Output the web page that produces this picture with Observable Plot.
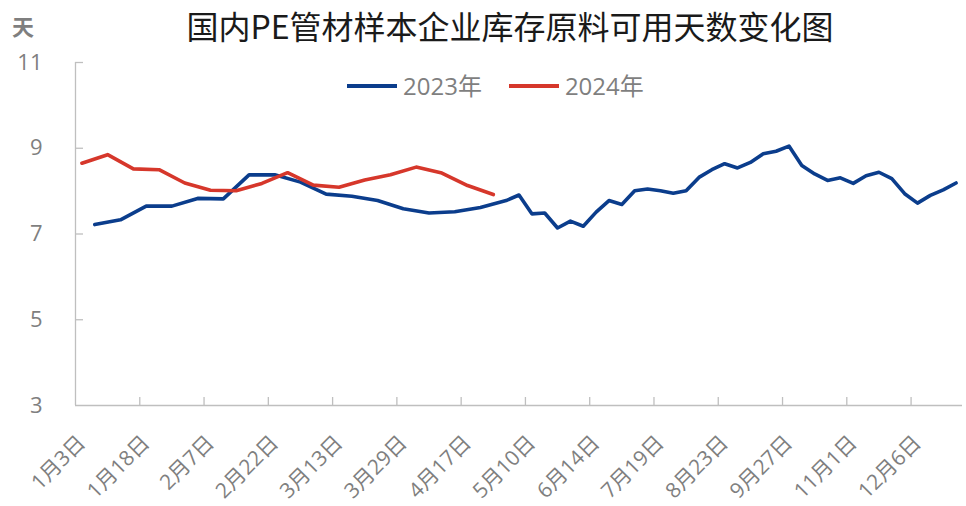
<!DOCTYPE html>
<html><head><meta charset="utf-8">
<script src="https://cdn.jsdelivr.net/npm/d3@7"></script>
<script src="https://cdn.jsdelivr.net/npm/@observablehq/plot@0.6"></script>
<style>
body{margin:0;background:#fff;}
#wrap{position:relative;width:966px;height:506px;overflow:hidden;font-family:"Open Sans","Noto Sans CJK SC",sans-serif;}
#title{position:absolute;left:0;width:1020px;top:3px;text-align:center;font-family:"Noto Sans CJK SC",sans-serif;font-size:32px;line-height:44px;color:#1a1a1a;}
#unit{position:absolute;left:12px;top:10px;font-size:22px;line-height:30px;font-weight:bold;color:#7f7f7f;font-family:"Noto Sans CJK SC",sans-serif;}
#legend{position:absolute;top:69px;left:347px;display:flex;align-items:center;font-size:24px;line-height:34px;color:#7f7f7f;}
#legend .sw{display:inline-block;width:50px;height:4px;}
#chart{position:absolute;left:0;top:30px;}
</style></head>
<body>
<div id="wrap">
  <div id="chart"></div>
  <div id="title">国内PE管材样本企业库存原料可用天数变化图</div>
  <div id="unit">天</div>
  <div id="legend"></div>
</div>
<script>
const categories = ["1月3日","1月4日","1月10日","1月11日","1月17日","1月18日","1月24日","1月25日","1月31日","2月1日",
"2月7日","2月8日","2月14日","2月15日","2月21日","2月22日","2月28日","3月1日","3月6日","3月8日",
"3月13日","3月15日","3月20日","3月22日","3月27日","3月29日","4月3日","4月5日","4月10日","4月12日",
"4月17日","4月19日","4月24日","4月26日","5月3日","5月10日","5月17日","5月24日","5月31日","6月7日",
"6月14日","6月21日","6月28日","7月5日","7月12日","7月19日","7月26日","8月2日","8月9日","8月16日",
"8月23日","8月30日","9月6日","9月13日","9月20日","9月27日","10月4日","10月11日","10月18日","10月25日",
"11月1日","11月8日","11月15日","11月22日","11月29日","12月6日","12月13日","12月20日","12月27日"];

const tickLabels = ["1月3日","1月18日","2月7日","2月22日","3月13日","3月29日","4月17日","5月10日","6月14日","7月19日","8月23日","9月27日","11月1日","12月6日"];
const yTicks = [3,5,7,9,11];

const seriesNames = ["2023年","2024年"];
const seriesColors = ["#0b3d8c","#d6372b"];

const dates2023 = ["1月4日","1月11日","1月18日","1月25日","2月1日","2月8日","2月15日","2月22日","3月1日","3月8日",
"3月15日","3月22日","3月29日","4月5日","4月12日","4月19日","4月26日","5月3日","5月10日","5月17日",
"5月24日","5月31日","6月7日","6月14日","6月21日","6月28日","7月5日","7月12日","7月19日","7月26日",
"8月2日","8月9日","8月16日","8月23日","8月30日","9月6日","9月13日","9月20日","9月27日","10月4日",
"10月11日","10月18日","10月25日","11月1日","11月8日","11月15日","11月22日","11月29日","12月6日","12月13日",
"12月20日","12月27日"];
const values2023 = [7.22,7.33,7.65,7.65,7.83,7.82,8.38,8.38,8.21,7.93,
7.88,7.78,7.59,7.49,7.52,7.62,7.78,7.91,7.47,7.49,
7.14,7.30,7.18,7.51,7.78,7.69,8.01,8.05,8.01,7.95,
8.01,8.32,8.50,8.64,8.54,8.67,8.87,8.93,9.05,8.60,
8.40,8.25,8.31,8.18,8.36,8.44,8.29,7.94,7.72,7.90,
8.03,8.19];

const dates2024 = ["1月3日","1月10日","1月17日","1月24日","1月31日","2月7日","2月14日","2月21日","2月28日","3月6日",
"3月13日","3月20日","3月27日","4月3日","4月10日","4月17日","4月24日"];
const values2024 = [8.65,8.85,8.52,8.50,8.19,8.02,8.01,8.18,8.43,8.14,
8.09,8.26,8.38,8.56,8.42,8.13,7.92];

const gray = "#7f7f7f", axisGray = "#bfbfbf";
const toRows = (dates, values) => dates.map((d, k) => ({i: categories.indexOf(d), v: values[k]}));
const rows2023 = toRows(dates2023, values2023);
const rows2024 = toRows(dates2024, values2024);
const labelIdx = tickLabels.map(t => categories.indexOf(t));
const boundaries = labelIdx.slice(1).map(i => i - 0.5);

const chart = Plot.plot({
  width: 966, height: 476,
  marginTop: 32, marginBottom: 101, marginLeft: 75, marginRight: 4,
  x: {type: "linear", domain: [-0.5, categories.length - 0.5], axis: null},
  y: {domain: [3, 11], axis: null},
  style: {fontFamily: '"Open Sans","Noto Sans CJK SC",sans-serif', background: "transparent", overflow: "visible"},
  marks: [
    Plot.axisY({ticks: yTicks, tickSize: 0, tickPadding: 33, fontSize: 22, color: gray, label: null}),
    Plot.tickY(yTicks.slice(1), {y: d => d, stroke: axisGray, strokeWidth: 1.3, insetRight: 879}),
    Plot.tickX(boundaries, {x: d => d, stroke: axisGray, strokeWidth: 1.3, insetTop: 335}),
    Plot.ruleY([3], {stroke: axisGray, strokeWidth: 1.3}),
    Plot.ruleX([-0.5], {stroke: axisGray, strokeWidth: 1.3}),
    Plot.line(rows2023, {x: "i", y: "v", stroke: seriesColors[0], strokeWidth: 3.6, strokeLinejoin: "round"}),
    Plot.line(rows2024, {x: "i", y: "v", stroke: seriesColors[1], strokeWidth: 3.6, strokeLinejoin: "round"}),
    Plot.text(labelIdx, {x: d => d, text: d => categories[d], frameAnchor: "bottom", rotate: -45,
      textAnchor: "end", lineAnchor: "middle", dy: 34, fontSize: 21, fill: gray})
  ]
});
document.getElementById("chart").appendChild(chart);

const legend = document.getElementById("legend");
seriesNames.forEach((name, k) => {
  const sw = document.createElement("span");
  sw.className = "sw";
  sw.style.background = seriesColors[k];
  if (k > 0) sw.style.marginLeft = "27px";
  const tx = document.createElement("span");
  tx.textContent = name;
  tx.style.marginLeft = "6px";
  legend.appendChild(sw);
  legend.appendChild(tx);
});
</script>
</body></html>
